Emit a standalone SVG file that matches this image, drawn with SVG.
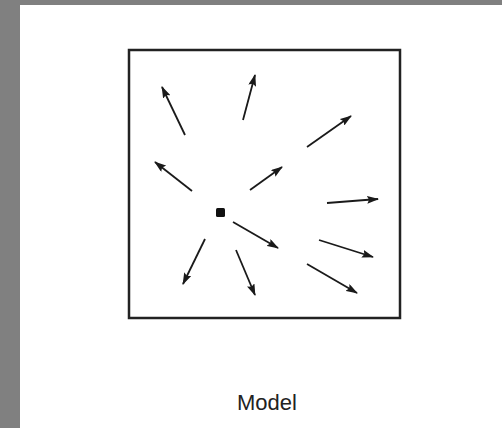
<svg xmlns="http://www.w3.org/2000/svg" width="502" height="428" viewBox="0 0 502 428">
<style>
.ar{stroke:#1a1a1a;stroke-width:1.8;fill:none;marker-end:url(#ah)}
.box{fill:none;stroke:#222;stroke-width:2.5}
.lbl{font-family:"Liberation Sans",Arial,sans-serif;font-size:22px;fill:#222}
</style>
<defs>
<marker id="ah" viewBox="0 0 12 8" refX="11" refY="4" markerWidth="12" markerHeight="8" markerUnits="userSpaceOnUse" orient="auto">
<path d="M0,0 L12,4 L0,8 L2,4 Z" fill="#1a1a1a"/>
</marker>
</defs>
<rect x="0" y="0" width="502" height="428" fill="#fff"/>
<rect x="0" y="0" width="20" height="428" fill="#808080"/>
<rect x="0" y="0" width="502" height="5" fill="#808080"/>
<g id="frame"><rect class="box" x="129" y="50" width="271" height="268"/></g>
<g id="source"><rect x="216" y="208" width="9" height="9" rx="1.5" fill="#111"/></g>
<g id="connectors">
<line class="ar" x1="185" y1="135" x2="162" y2="87"/>
<line class="ar" x1="243" y1="120" x2="255" y2="75"/>
<line class="ar" x1="307" y1="147" x2="351" y2="116"/>
<line class="ar" x1="192" y1="191" x2="155" y2="162"/>
<line class="ar" x1="250" y1="190" x2="282" y2="167"/>
<line class="ar" x1="327" y1="203" x2="378" y2="199"/>
<line class="ar" x1="233" y1="222" x2="278" y2="248"/>
<line class="ar" x1="319" y1="240" x2="373" y2="257"/>
<line class="ar" x1="307" y1="264" x2="357" y2="293"/>
<line class="ar" x1="205" y1="239" x2="183" y2="284"/>
<line class="ar" x1="236" y1="250" x2="255" y2="295"/>
</g>
<g id="caption"><text class="lbl" x="237" y="410">Model</text></g>
</svg>
